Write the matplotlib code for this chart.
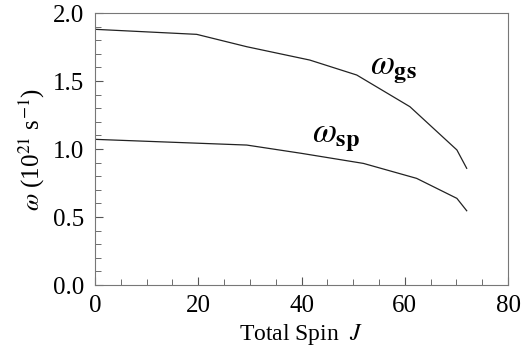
import matplotlib
matplotlib.use("Agg")
import matplotlib.pyplot as plt
from matplotlib.ticker import MultipleLocator

# values
J_gs = [0, 19.7, 29.4, 41.6, 50.7, 61.0, 70.1, 72.0]
w_gs = [1.88, 1.843, 1.752, 1.654, 1.544, 1.311, 0.993, 0.858]
J_sp = [0, 29.4, 40.0, 52.0, 62.3, 70.1, 72.0]
w_sp = [1.071, 1.029, 0.968, 0.894, 0.784, 0.637, 0.546]

plt.rcParams['font.family'] = ['Liberation Serif', 'DejaVu Serif']
plt.rcParams['mathtext.fontset'] = 'stix'

fig = plt.figure(figsize=(5.27, 3.53), dpi=100)
ax = fig.add_axes([95/527, 1-285/353, 413/527, 272/353])

ax.plot(J_gs, w_gs, color='#222222', lw=0.9)
ax.plot(J_sp, w_sp, color='#222222', lw=0.9)

ax.text(53.3, 1.55, r'$\omega_{\mathbf{gs}}$', fontsize=25)
ax.text(42.0, 1.05, r'$\omega_{\mathbf{sp}}$', fontsize=25)

ax.set_xlim(0, 80)
ax.set_ylim(0, 2.0)
ax.xaxis.set_major_locator(MultipleLocator(20))
ax.xaxis.set_minor_locator(MultipleLocator(5))
ax.yaxis.set_major_locator(MultipleLocator(0.5))
ax.yaxis.set_minor_locator(MultipleLocator(0.1))
ax.yaxis.set_major_formatter(matplotlib.ticker.FormatStrFormatter('%.1f'))
ax.tick_params(which='both', direction='in', color='#555555', labelsize=18)
ax.tick_params(axis='x', which='major', pad=7)
ax.tick_params(axis='y', which='major', pad=8)
ax.tick_params(which='major', length=6)
ax.tick_params(which='minor', length=4)
for s in ax.spines.values():
    s.set_color('#777777')

ax.set_xlabel(r'Total Spin  $J$', fontsize=17, labelpad=4)
ax.set_ylabel(r'$\omega$ (10$^{21}$ s$^{-1}$)', fontsize=18, labelpad=4)

fig.savefig('out.png', dpi=100)
